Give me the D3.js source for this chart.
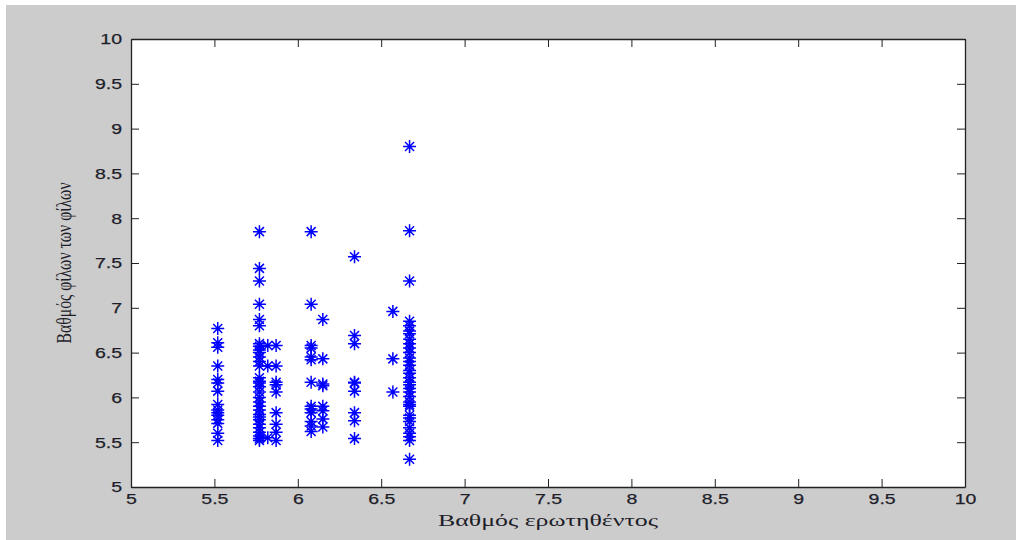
<!DOCTYPE html>
<meta charset="utf-8">
<style>
  body { margin: 0; background: #fff; }
  text { fill: #1e1e2a; }
</style>
<body>
<script src="https://cdn.jsdelivr.net/npm/d3@7"></script>
<script>

    var width = 1016,
        height = 540;

    var margin = {left: 131, right: 51, top: 39, bottom: 53};

    // axis ticks
    var xTicks = [5, 5.5, 6, 6.5, 7, 7.5, 8, 8.5, 9, 9.5, 10];
    var yTicks = [5, 5.5, 6, 6.5, 7, 7.5, 8, 8.5, 9, 9.5, 10];

    // respondent grade (x) of every column of points
    var colX = [5.52, 5.77, 5.82, 5.87, 6.08, 6.15, 6.34, 6.57, 6.67];

    // friends-of-friends grade (y), one list per column
    var col552 = [6.77, 6.61, 6.56, 6.35, 6.2, 6.16, 6.07, 5.92, 5.86, 5.83, 5.8, 5.75, 5.71, 5.6, 5.52];
    var col577 = [7.85, 7.44, 7.3, 7.04, 6.87, 6.8, 6.6, 6.57, 6.53, 6.5, 6.45, 6.4, 6.35, 6.22, 6.18, 6.16, 6.12,
                  6.06, 6.0, 5.95, 5.9, 5.86, 5.81, 5.78, 5.75, 5.7, 5.66, 5.61, 5.57, 5.54, 5.52];
    var col582 = [6.58, 6.35, 5.55];
    var col587 = [6.58, 6.35, 6.17, 6.14, 6.06, 5.83, 5.7, 5.61, 5.52];
    var col608 = [7.85, 7.04, 6.58, 6.55, 6.45, 6.42, 6.17, 5.9, 5.87, 5.83, 5.73, 5.68, 5.62];
    var col615 = [6.87, 6.43, 6.15, 6.13, 5.9, 5.85, 5.76, 5.67];
    var col634 = [7.57, 6.69, 6.6, 6.17, 6.16, 6.07, 5.83, 5.74, 5.54];
    var col657 = [6.96, 6.43, 6.06];
    var col667 = [8.8, 7.86, 7.3, 6.85, 6.8, 6.74, 6.71, 6.65, 6.6, 6.55, 6.5, 6.44, 6.4, 6.36, 6.3, 6.27, 6.22,
                  6.17, 6.14, 6.1, 6.06, 6.01, 5.95, 5.92, 5.9, 5.8, 5.77, 5.73, 5.66, 5.6, 5.56, 5.52, 5.31];

    var columns = [col552, col577, col582, col587, col608, col615, col634, col657, col667];

    var points = [];
    columns.forEach(function(list, i) {
        list.forEach(function(v) { points.push({x: colX[i], y: v}); });
    });

    var svg = d3.select("body").append("svg")
            .attr("width", width)
            .attr("height", height);

    // grey figure background
    svg.append("rect")
            .attr("x", 6).attr("y", 5)
            .attr("width", width - 6).attr("height", height - 5)
            .attr("fill", "#cccccc");

    var x = d3.scaleLinear().domain([5, 10]).range([margin.left, width - margin.right]);
    var y = d3.scaleLinear().domain([5, 10]).range([height - margin.bottom, margin.top]);

    // white plot area
    svg.append("rect")
            .attr("x", x(5)).attr("y", y(10))
            .attr("width", x(10) - x(5)).attr("height", y(5) - y(10))
            .attr("fill", "#fff");

    var fmt = function(d) { return String(d); };

    // inward ticks, MATLAB style, on all four sides
    var tk = 8;
    var gx = svg.append("g").attr("transform", "translate(0," + y(5) + ")")
            .call(d3.axisBottom(x).tickValues(xTicks).tickFormat(fmt).tickSizeInner(-tk).tickSizeOuter(0).tickPadding(6));
    var gy = svg.append("g").attr("transform", "translate(" + x(5) + ",0)")
            .call(d3.axisLeft(y).tickValues(yTicks).tickFormat(fmt).tickSizeInner(-tk).tickSizeOuter(0).tickPadding(9));
    svg.append("g").attr("transform", "translate(0," + y(10) + ")")
            .call(d3.axisTop(x).tickValues(xTicks).tickFormat("").tickSizeInner(-tk).tickSizeOuter(0));
    svg.append("g").attr("transform", "translate(" + x(10) + ",0)")
            .call(d3.axisRight(y).tickValues(yTicks).tickFormat("").tickSizeInner(-tk).tickSizeOuter(0));

    svg.selectAll(".domain").attr("stroke", "#222").attr("stroke-width", 1.3);
    svg.selectAll(".tick line").attr("stroke", "#222");

    // tick labels are a bit stretched sideways in the picture
    svg.selectAll(".tick text")
            .attr("font-family", "Liberation Sans, Arial, sans-serif")
            .attr("font-size", 15)
            .attr("fill", "#1e1e2a")
            .attr("stroke", "#1e1e2a")
            .attr("stroke-width", 0.25)
            .each(function() {
                var w = this.getComputedTextLength();
                d3.select(this).attr("textLength", w * 1.3).attr("lengthAdjust", "spacingAndGlyphs");
            });
    gx.selectAll(".tick text").attr("dy", "0.75em");

    // star markers
    var star = "M-6.5,0H6.5M0,-6.5V6.5M-4.5,-4.5L4.5,4.5M-4.5,4.5L4.5,-4.5";
    svg.append("g").selectAll("path")
            .data(points)
            .enter().append("path")
            .attr("transform", function(d) { return "translate(" + x(d.x) + "," + y(d.y) + ")"; })
            .attr("d", star)
            .attr("fill", "none")
            .attr("stroke", "#0000ff")
            .attr("stroke-width", 1.5);

    // axis labels
    svg.append("text")
            .attr("x", (x(5) + x(10)) / 2)
            .attr("y", 526)
            .attr("text-anchor", "middle")
            .attr("font-family", "Liberation Serif, Times New Roman, serif")
            .attr("font-size", 17)
            .attr("textLength", 220)
            .attr("lengthAdjust", "spacingAndGlyphs")
            .text("Βαθμός ερωτηθέντος");

    svg.append("text")
            .attr("transform", "translate(71," + ((y(5) + y(10)) / 2) + ") rotate(-90)")
            .attr("text-anchor", "middle")
            .attr("font-family", "Liberation Serif, Times New Roman, serif")
            .attr("font-size", 21)
            .attr("textLength", 161)
            .attr("lengthAdjust", "spacingAndGlyphs")
            .text("Βαθμός φίλων των φίλων");

</script>
